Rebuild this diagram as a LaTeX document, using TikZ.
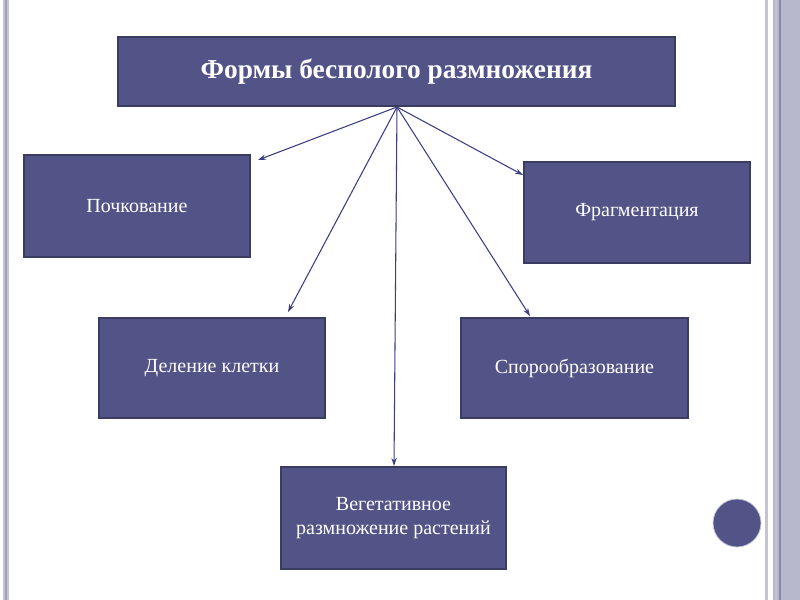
\documentclass[tikz,border=0pt]{standalone}
\usepackage{fontspec}
\setmainfont{Liberation Serif}
\usetikzlibrary{arrows.meta}
\definecolor{boxfill}{RGB}{82,84,136}
\definecolor{boxline}{RGB}{58,60,98}
\definecolor{arrowc}{RGB}{60,62,130}
\definecolor{bandlight}{RGB}{196,196,214}
\definecolor{bandmid}{RGB}{184,184,204}
\definecolor{banddark}{RGB}{136,136,172}
\tikzset{
  box/.style={draw=boxline, line width=1pt, fill=boxfill, text=white, inner sep=0pt, align=center, font=\fontsize{15}{18}\selectfont},
  link/.style={draw=arrowc, line width=0.8pt, -{Stealth[length=6pt,width=4pt]}}
}
\begin{document}
\begin{tikzpicture}[x=0.75pt,y=-0.75pt]
\useasboundingbox (0,0) rectangle (800,600);
\fill[white] (0,0) rectangle (800,600);
% left band
\fill[bandlight] (3,0) rectangle (9,600);
\fill[banddark!60!bandlight] (5,0) rectangle (7,600);
% right bands
\fill[bandlight] (765,0) rectangle (768,600);
\fill[bandmid] (773,0) rectangle (800,600);
\fill[banddark] (779,0) rectangle (781,600);
\fill[bandlight] (775,0) rectangle (777,600);
% circle
\node[circle, fill=boxfill, draw=bandlight, line width=0.6pt, minimum size=48pt*0.75, inner sep=0pt] (dot) at (737,523) {};
% boxes
\node[box, minimum width=557*0.75pt, minimum height=69*0.75pt, font=\bfseries\fontsize{20.5}{24}\selectfont] (top) at (396.5,71.5) {Формы бесполого размножения};
\node[box, minimum width=226*0.75pt, minimum height=102*0.75pt] (poch) at (137,206) {Почкование};
\node[box, minimum width=226*0.75pt, minimum height=101*0.75pt] (frag) at (637,212.5) {Фрагментация};
\node[box, minimum width=226*0.75pt, minimum height=100*0.75pt] (del) at (212,368) {Деление клетки};
\node[box, minimum width=227*0.75pt, minimum height=100*0.75pt] (spor) at (574.5,368) {Спорообразование};
\node[box, minimum width=225*0.75pt, minimum height=102*0.75pt] (veg) at (393.5,518) {Вегетативное\\размножение растений};
% arrows
\coordinate (src) at (397,107);
\coordinate (ePoch) at (258,160);
\coordinate (eFrag) at (523,175);
\coordinate (eDel) at (288,312);
\coordinate (eSpor) at (530,316);
\coordinate (eVeg) at (394,466);
\draw[link] (src) -- (ePoch);
\draw[link] (src) -- (eFrag);
\draw[link] (src) -- (eDel);
\draw[link] (src) -- (eSpor);
\draw[link] (src) -- (eVeg);
\end{tikzpicture}
\end{document}
